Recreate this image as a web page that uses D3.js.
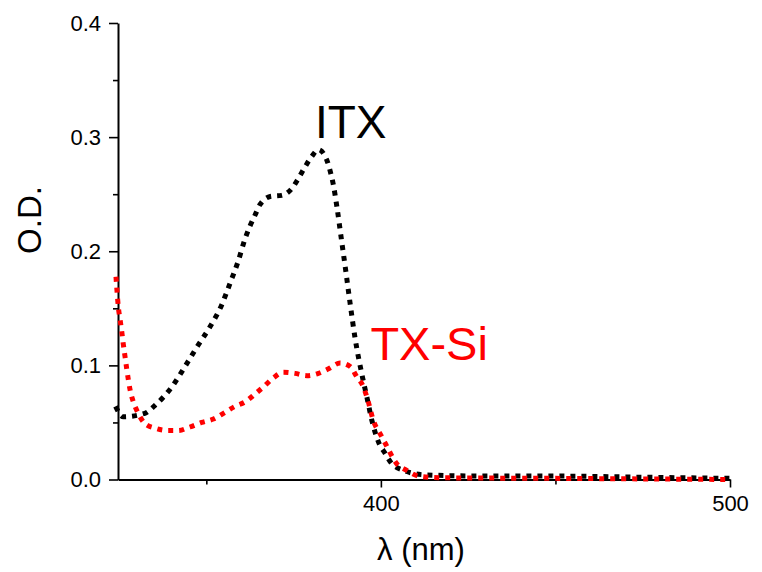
<!DOCTYPE html>
<html>
<head>
<meta charset="utf-8">
<script src="https://cdn.jsdelivr.net/npm/d3@7"></script>
<style>
  body { margin: 0; background: #fff; }
  svg { display: block; font-family: "Liberation Sans", Arial, sans-serif; }
</style>
</head>
<body>
<svg id="chart" width="762" height="572"></svg>
<script>
// Data (wavelength nm, optical density)
const itxWavelength = [324.0, 326.2, 332.4, 335.3, 340.1, 343.9, 347.3, 351.1, 354.4, 356.8, 359.2, 361.1, 362.5, 364.0, 365.4, 368.3, 371.6, 374.5, 376.4, 378.3, 380.2, 382.1, 384.5, 385.5, 386.4, 387.4, 388.8, 389.8, 391.2, 392.6, 394.5, 396.0, 397.4, 399.3, 401.2, 403.1, 406.5, 409.8, 413.2, 430, 450, 475, 500];
const itxOD         = [0.064, 0.055, 0.058, 0.065, 0.081, 0.099, 0.116, 0.134, 0.153, 0.172, 0.192, 0.211, 0.222, 0.232, 0.241, 0.248, 0.249, 0.255, 0.264, 0.274, 0.283, 0.289, 0.280, 0.270, 0.258, 0.239, 0.208, 0.186, 0.154, 0.124, 0.093, 0.072, 0.052, 0.033, 0.023, 0.014, 0.008, 0.005, 0.004, 0.003, 0.003, 0.002, 0.001];

const txsiWavelength = [324.0, 324.3, 324.8, 325.3, 325.8, 326.2, 326.7, 327.2, 328.2, 329.1, 330.5, 332.4, 335.3, 338.7, 342.0, 345.3, 348.7, 352.0, 354.9, 358.2, 361.1, 364.0, 366.3, 369.2, 372.1, 375.4, 378.8, 382.1, 385.0, 388.3, 391.2, 393.1, 395.0, 396.4, 397.8, 399.8, 401.2, 404.5, 407.4, 410.8, 417.5, 450, 475, 500];
const txsiOD         = [0.183, 0.170, 0.151, 0.140, 0.129, 0.119, 0.108, 0.097, 0.078, 0.068, 0.058, 0.049, 0.045, 0.043, 0.043, 0.046, 0.050, 0.053, 0.058, 0.064, 0.068, 0.075, 0.081, 0.089, 0.094, 0.093, 0.091, 0.093, 0.097, 0.102, 0.099, 0.090, 0.081, 0.068, 0.052, 0.040, 0.032, 0.014, 0.008, 0.003, 0.0015, 0.001, 0.0005, 0.0];

const xMajorTicks = [400, 500];
const xMinorTicks = [350, 450];
const yMajorTicks = [0.0, 0.1, 0.2, 0.3, 0.4];
const yMinorTicks = [0.05, 0.15, 0.25, 0.35];

const seriesNames = ["ITX", "TX-Si"];
const xTitle = "λ (nm)";
const yTitle = "O.D.";

const svg = d3.select("#chart");
const x = d3.scaleLinear().domain([324.7, 500]).range([118, 730]);
const y = d3.scaleLinear().domain([0, 0.4]).range([479.5, 23]);

// Axes
const xAxis = svg.append("g").attr("transform", `translate(0,${y(0)})`);
xAxis.call(d3.axisBottom(x).tickValues(xMajorTicks).tickFormat(d3.format("d")).tickSize(8).tickPadding(8).tickSizeOuter(0));
xAxis.append("g").call(d3.axisBottom(x).tickValues(xMinorTicks).tickFormat("").tickSize(5).tickSizeOuter(0))
  .select(".domain").remove();

const yAxis = svg.append("g").attr("transform", `translate(${x(324.7)},0)`);
yAxis.call(d3.axisLeft(y).tickValues(yMajorTicks).tickFormat(d3.format(".1f")).tickSize(9).tickPadding(8).tickSizeOuter(0));
yAxis.append("g").call(d3.axisLeft(y).tickValues(yMinorTicks).tickFormat("").tickSize(5).tickSizeOuter(0))
  .select(".domain").remove();

svg.selectAll(".domain").attr("stroke", "#000").attr("stroke-width", 2);
svg.selectAll(".tick line").attr("stroke", "#000").attr("stroke-width", 1.6);
svg.selectAll(".tick text").attr("font-size", 22).attr("font-family", "Liberation Sans, Arial, sans-serif").attr("fill", "#000");

// Lines
const line = d3.line().x(d => x(d[0])).y(d => y(d[1])).curve(d3.curveMonotoneX);
const itxData = itxWavelength.map((w, i) => [w, itxOD[i]]);
const txsiData = txsiWavelength.map((w, i) => [w, txsiOD[i]]);

svg.append("path").datum(itxData).attr("d", line)
  .attr("fill", "none").attr("stroke", "#000").attr("stroke-width", 5)
  .attr("stroke-dasharray", "5,6");
svg.append("path").datum(txsiData).attr("d", line)
  .attr("fill", "none").attr("stroke", "#ff0000").attr("stroke-width", 5)
  .attr("stroke-dasharray", "5,6").attr("stroke-dashoffset", 5);

// Series labels
svg.append("text").attr("x", x(381.1)).attr("y", y(0.3)).attr("dy", 1)
  .attr("font-size", 46).attr("fill", "#000").text(seriesNames[0]);
svg.append("text").attr("x", x(397.0)).attr("y", y(0.1)).attr("dy", -5)
  .attr("font-size", 47).attr("fill", "#ff0000").text(seriesNames[1]);

// Axis titles
svg.append("text").attr("x", 421).attr("y", 560).attr("text-anchor", "middle")
  .attr("font-size", 31).attr("fill", "#000").text(xTitle);
svg.append("text").attr("transform", "translate(41,220) rotate(-90)").attr("text-anchor", "middle")
  .attr("font-size", 33).attr("fill", "#000").text(yTitle);
</script>
</body>
</html>
